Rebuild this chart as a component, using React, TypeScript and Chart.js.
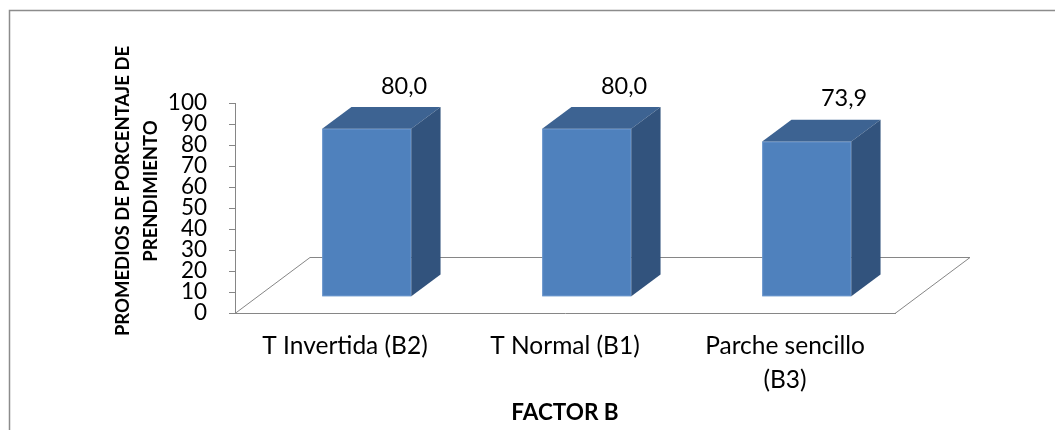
import React, { useEffect, useRef } from 'react';
import { Chart, registerables } from 'chart.js';

Chart.register(...registerables);

// ---- data ----
const categories: (string | string[])[] = ['T Invertida (B2)', 'T Normal (B1)', ['Parche sencillo', '(B3)']];
const values: number[] = [80.0, 80.0, 73.9];
const yTitleLines: string[] = ['PROMEDIOS DE PORCENTAJE DE', 'PRENDIMIENTO'];
const xTitle = 'FACTOR B';
const yMin = 0;
const yMax = 100;
const yStep = 10;

// ---- style ----
const W = 1055;
const H = 430;
const FONT = 'Lato, "Open Sans", sans-serif';
const AXIS_GREY = '#868686';
const FRAME_GREY = '#8c8c8c';
const DEPTH = { x: 75, y: -56 }; // floor depth vector
const BAR_FRONT = 0.29; // fraction of depth where the bar front face sits
const BAR_BACK = 0.68; // fraction of depth where the bar back face sits
const FRONT_COLOR = '#4F81BD';
const TOP_COLOR = '#3D6392';
const SIDE_COLOR = '#32537D';
const LABEL_OFFSET = { x: 59, y: -59 };

const fmt = (v: number) => v.toFixed(1).replace('.', ',');

const threeDPlugin = {
  id: 'threeD',
  beforeDraw(chart: any) {
    const { ctx } = chart;
    ctx.save();
    ctx.fillStyle = '#ffffff';
    ctx.fillRect(0, 0, chart.width, chart.height);
    ctx.strokeStyle = FRAME_GREY;
    ctx.lineWidth = 1.5;
    ctx.beginPath();
    ctx.moveTo(9.5, chart.height);
    ctx.lineTo(9.5, 10.5);
    ctx.lineTo(chart.width, 10.5);
    ctx.stroke();
    ctx.restore();
  },
  beforeDatasetsDraw(chart: any) {
    const { ctx, chartArea: a } = chart;
    ctx.save();
    // floor
    ctx.strokeStyle = AXIS_GREY;
    ctx.lineWidth = 1;
    ctx.beginPath();
    ctx.moveTo(a.left, a.bottom + 0.5);
    ctx.lineTo(a.left + DEPTH.x, a.bottom + DEPTH.y + 0.5);
    ctx.lineTo(a.right + DEPTH.x, a.bottom + DEPTH.y + 0.5);
    ctx.lineTo(a.right, a.bottom + 0.5);
    ctx.stroke();

    const fx = DEPTH.x * BAR_FRONT;
    const fy = DEPTH.y * BAR_FRONT;
    const bx = DEPTH.x * BAR_BACK;
    const by = DEPTH.y * BAR_BACK;
    const meta = chart.getDatasetMeta(0);
    const ds = chart.data.datasets[0];
    meta.data.forEach((el: any, i: number) => {
      const { x, y, base, width } = el.getProps(['x', 'y', 'base', 'width'], true);
      const xl = x - width / 2;
      const xr = x + width / 2;
      // front face
      ctx.fillStyle = FRONT_COLOR;
      ctx.fillRect(xl + fx, y + fy, width, base - y);
      ctx.strokeStyle = 'rgba(120,160,215,0.6)';
      ctx.lineWidth = 1;
      ctx.strokeRect(xl + fx + 0.5, y + fy + 0.5, width - 1, base - y - 1);
      // top face
      ctx.fillStyle = TOP_COLOR;
      ctx.beginPath();
      ctx.moveTo(xl + fx, y + fy);
      ctx.lineTo(xr + fx, y + fy);
      ctx.lineTo(xr + bx, y + by);
      ctx.lineTo(xl + bx, y + by);
      ctx.closePath();
      ctx.fill();
      // side face
      ctx.fillStyle = SIDE_COLOR;
      ctx.beginPath();
      ctx.moveTo(xr + fx, y + fy);
      ctx.lineTo(xr + bx, y + by);
      ctx.lineTo(xr + bx, base + by);
      ctx.lineTo(xr + fx, base + fy);
      ctx.closePath();
      ctx.fill();
      // value label
      ctx.fillStyle = '#000000';
      ctx.font = `23.5px ${FONT}`;
      ctx.textAlign = 'center';
      ctx.textBaseline = 'middle';
      ctx.fillText(fmt(ds.data[i]), x + LABEL_OFFSET.x, y + LABEL_OFFSET.y);
    });

    // y axis title (two lines, rotated)
    ctx.fillStyle = '#000000';
    ctx.font = `bold 18.5px ${FONT}`;
    ctx.textAlign = 'center';
    ctx.textBaseline = 'middle';
    const centers = [123.5, 151.5];
    yTitleLines.forEach((line, i) => {
      ctx.save();
      ctx.translate(centers[i], 191);
      ctx.rotate(-Math.PI / 2);
      ctx.fillText(line, 0, 0);
      ctx.restore();
    });
    ctx.restore();
    return false;
  },
};

export default function App() {
  const canvasRef = useRef<HTMLCanvasElement | null>(null);

  useEffect(() => {
    const canvas = canvasRef.current;
    if (!canvas) return;
    const chart = new Chart(canvas, {
      type: 'bar',
      data: {
        labels: categories,
        datasets: [
          {
            data: values,
            backgroundColor: FRONT_COLOR,
            barPercentage: 0.405,
            categoryPercentage: 1,
          },
        ],
      },
      options: {
        responsive: false,
        animation: false,
        devicePixelRatio: 1,
        layout: { padding: { top: 103, right: 160, left: 0, bottom: 0 } },
        plugins: {
          legend: { display: false },
          tooltip: { enabled: false },
        },
        scales: {
          x: {
            offset: true,
            grid: { display: false, drawTicks: false },
            border: { display: true, color: AXIS_GREY, width: 1 },
            ticks: {
              color: '#000000',
              font: { family: FONT, size: 24.5, lineHeight: 1.35 },
              padding: 17,
              maxRotation: 0,
              autoSkip: false,
            },
            title: {
              display: true,
              text: xTitle,
              color: '#000000',
              font: { family: FONT, size: 22.5, weight: 'bold' },
              padding: { top: 0, bottom: 4 },
            },
            afterFit: (scale: any) => {
              scale.height = 117;
            },
          },
          y: {
            min: yMin,
            max: yMax,
            grid: {
              display: true,
              drawOnChartArea: false,
              drawTicks: true,
              tickLength: 6,
              color: AXIS_GREY,
            },
            border: { display: true, color: AXIS_GREY, width: 1 },
            ticks: {
              stepSize: yStep,
              autoSkip: false,
              color: '#000000',
              font: { family: FONT, size: 22.5, lineHeight: 1 },
              padding: 22,
            },
            afterFit: (scale: any) => {
              scale.width = 235;
            },
          },
        },
      },
      plugins: [threeDPlugin],
    });
    return () => chart.destroy();
  }, []);

  return (
    <div style={{ position: 'absolute', left: 0, top: 0, width: W, height: H, background: '#fff' }}>
      <canvas ref={canvasRef} width={W} height={H} style={{ display: 'block', width: W, height: H }} />
    </div>
  );
}
